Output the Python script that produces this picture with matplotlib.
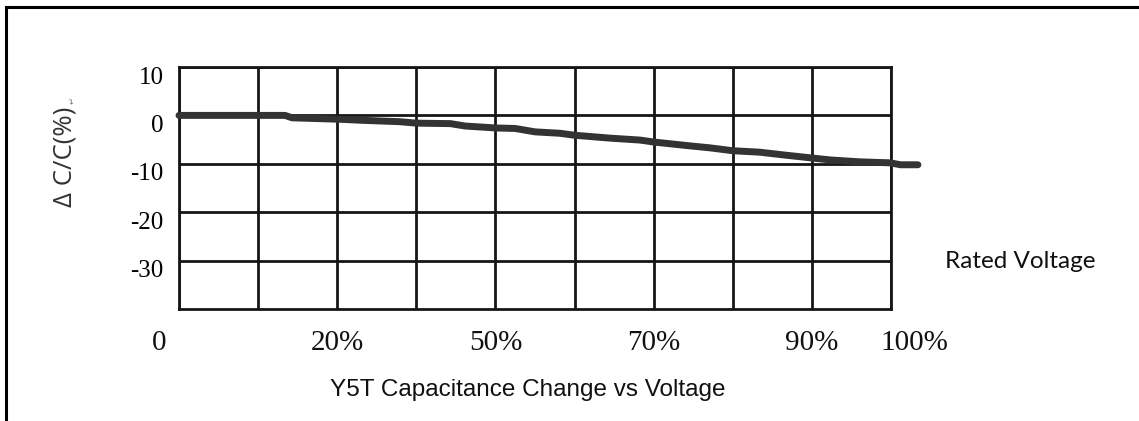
import matplotlib
matplotlib.use("Agg")
import matplotlib.pyplot as plt
import matplotlib.transforms as mtransforms
from matplotlib.lines import Line2D

# curve (x in grid columns, y in %)
x_pts = [0, 1.34, 1.43, 2.04, 2.29, 2.79, 3.0, 3.43, 3.62, 4.01, 4.25, 4.5, 4.82,
         5.0, 5.45, 5.83, 6.0, 6.46, 6.71, 7.0, 7.34, 7.66, 8.0, 8.23, 8.61, 8.99,
         9.12, 9.34]
dc_pts = [0, 0, -0.5, -0.8, -1.0, -1.3, -1.6, -1.7, -2.2, -2.6, -2.7, -3.4, -3.7,
          -4.1, -4.7, -5.1, -5.5, -6.3, -6.7, -7.3, -7.6, -8.2, -8.8, -9.2, -9.6, -9.8,
          -10.2, -10.2]

y_ticks = [10, 0, -10, -20, -30]
y_ticklabels = ["10", "0", "-10", "-20", "-30"]
x_labels = ["0", "20%", "50%", "70%", "90%", "100%"]
x_label_pos = [-0.25, 2, 4, 6, 8, 9.29]

W, H = 1139, 421
fig = plt.figure(figsize=(W / 100, H / 100), dpi=100)
fig.patch.set_facecolor("white")

ax = fig.add_axes([179 / W, 1 - 309 / H, (891 - 179) / W, (309 - 67) / H])
ax.set_xlim(0, 9)
ax.set_ylim(-40, 10)

grid_c = "#161616"
ax.set_xticks(range(10))
ax.set_xticklabels([])
ax.set_yticks(y_ticks)
ax.set_yticklabels(y_ticklabels, fontfamily="Liberation Serif", fontsize=18)
ax.tick_params(length=0, pad=11)
ax.grid(True, color=grid_c, linewidth=2.0)
for s in ax.spines.values():
    s.set_color(grid_c)
    s.set_linewidth(2.0)

off = mtransforms.ScaledTranslation(0, -8 / 100, fig.dpi_scale_trans)
for lbl in ax.get_yticklabels():
    lbl.set_transform(lbl.get_transform() + off)

ax.plot(x_pts, dc_pts, color="#333333", linewidth=5.0, solid_capstyle="round",
        solid_joinstyle="round", clip_on=False, zorder=5)

trans = mtransforms.blended_transform_factory(ax.transData, ax.transAxes)
for xp, lab in zip(x_label_pos, x_labels):
    ax.text(xp, -0.14, lab, transform=trans, ha="center", va="center",
            fontfamily="Liberation Serif", fontsize=21, color="#111111")

fig.text(65 / W, 1 - 157 / H, "Δ C/C(%)", rotation=90, ha="center", va="center",
         fontfamily=["Open Sans", "DejaVu Sans"], fontsize=18.5, color="#333333")
fig.text(72 / W, 1 - 100 / H, "↵", rotation=90, ha="center", va="center",
         fontfamily="DejaVu Sans", fontsize=6, color="#777777")

fig.text(1020 / W, 1 - 261 / H, "Rated Voltage", ha="center", va="center",
         fontfamily="Lato", fontsize=17.5, color="#111111")
fig.text(528 / W, 1 - 390 / H, "Y5T Capacitance Change vs Voltage", ha="center",
         va="center", fontfamily="Liberation Sans", fontsize=17.5, color="#111111")

# outer frame (top and left only)
fig.add_artist(Line2D([6 / W, 1], [1 - 7 / H, 1 - 7 / H], transform=fig.transFigure,
                      color="black", linewidth=2.2))
fig.add_artist(Line2D([6 / W, 6 / W], [0, 1 - 7 / H], transform=fig.transFigure,
                      color="black", linewidth=2.2))

fig.savefig("out.png", dpi=100)
